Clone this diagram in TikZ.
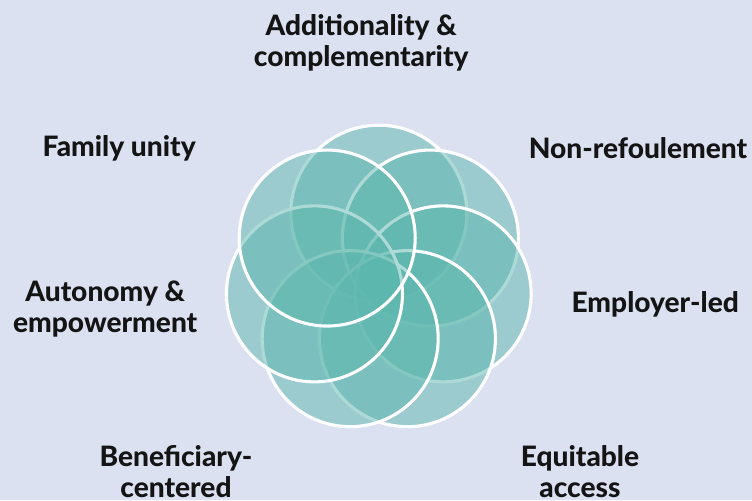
\documentclass[tikz,border=0pt]{standalone}
\usepackage{fontspec}
\setmainfont{Lato}[BoldFont={Lato Heavy}]
\usetikzlibrary{positioning, calc}
\definecolor{bgblue}{RGB}{220,225,242}
\definecolor{petalteal}{RGB}{92,183,174}
\tikzset{
  petal/.style = {draw=white, line width=2.2pt, fill=petalteal, fill opacity=0.5},
  principle/.style = {
    font=\bfseries\fontsize{20}{22}\selectfont,
    text=black!92, align=center, inner sep=0pt
  }
}

\begin{document}
\begin{tikzpicture}

    % Background
    \fill[bgblue] (0,0) rectangle (18.8,12.5);
    \useasboundingbox (0,0) rectangle (18.8,12.5);

    % Flower of seven circles, clockwise from the top
    \coordinate (flower) at (9.47,5.52);
    \foreach \a in {90, 38.57, -12.86, -64.29, -115.71, -167.14, 141.43}
        \draw[petal] ($(flower)+(\a:1.65)$) circle (2.2);

    % Principles
    \node[principle] (additionality) at (9.03,11.42) {Additionality \&\\complementarity};
    \node[principle] (family) at (2.98,8.8) {Family unity};
    \node[principle] (refoulement) at (15.95,8.8) {Non-refoulement};
    \node[principle] (autonomy) at (2.63,4.78) {Autonomy \&\\empowerment};
    \node[principle] (employer) at (16.38,4.9) {Employer-led};
    \node[principle] (beneficiary) at (4.4,0.72) {Beneficiary-\\centered};
    \node[principle] (equitable) at (14.5,0.72) {Equitable\\access};

\end{tikzpicture}
\end{document}
